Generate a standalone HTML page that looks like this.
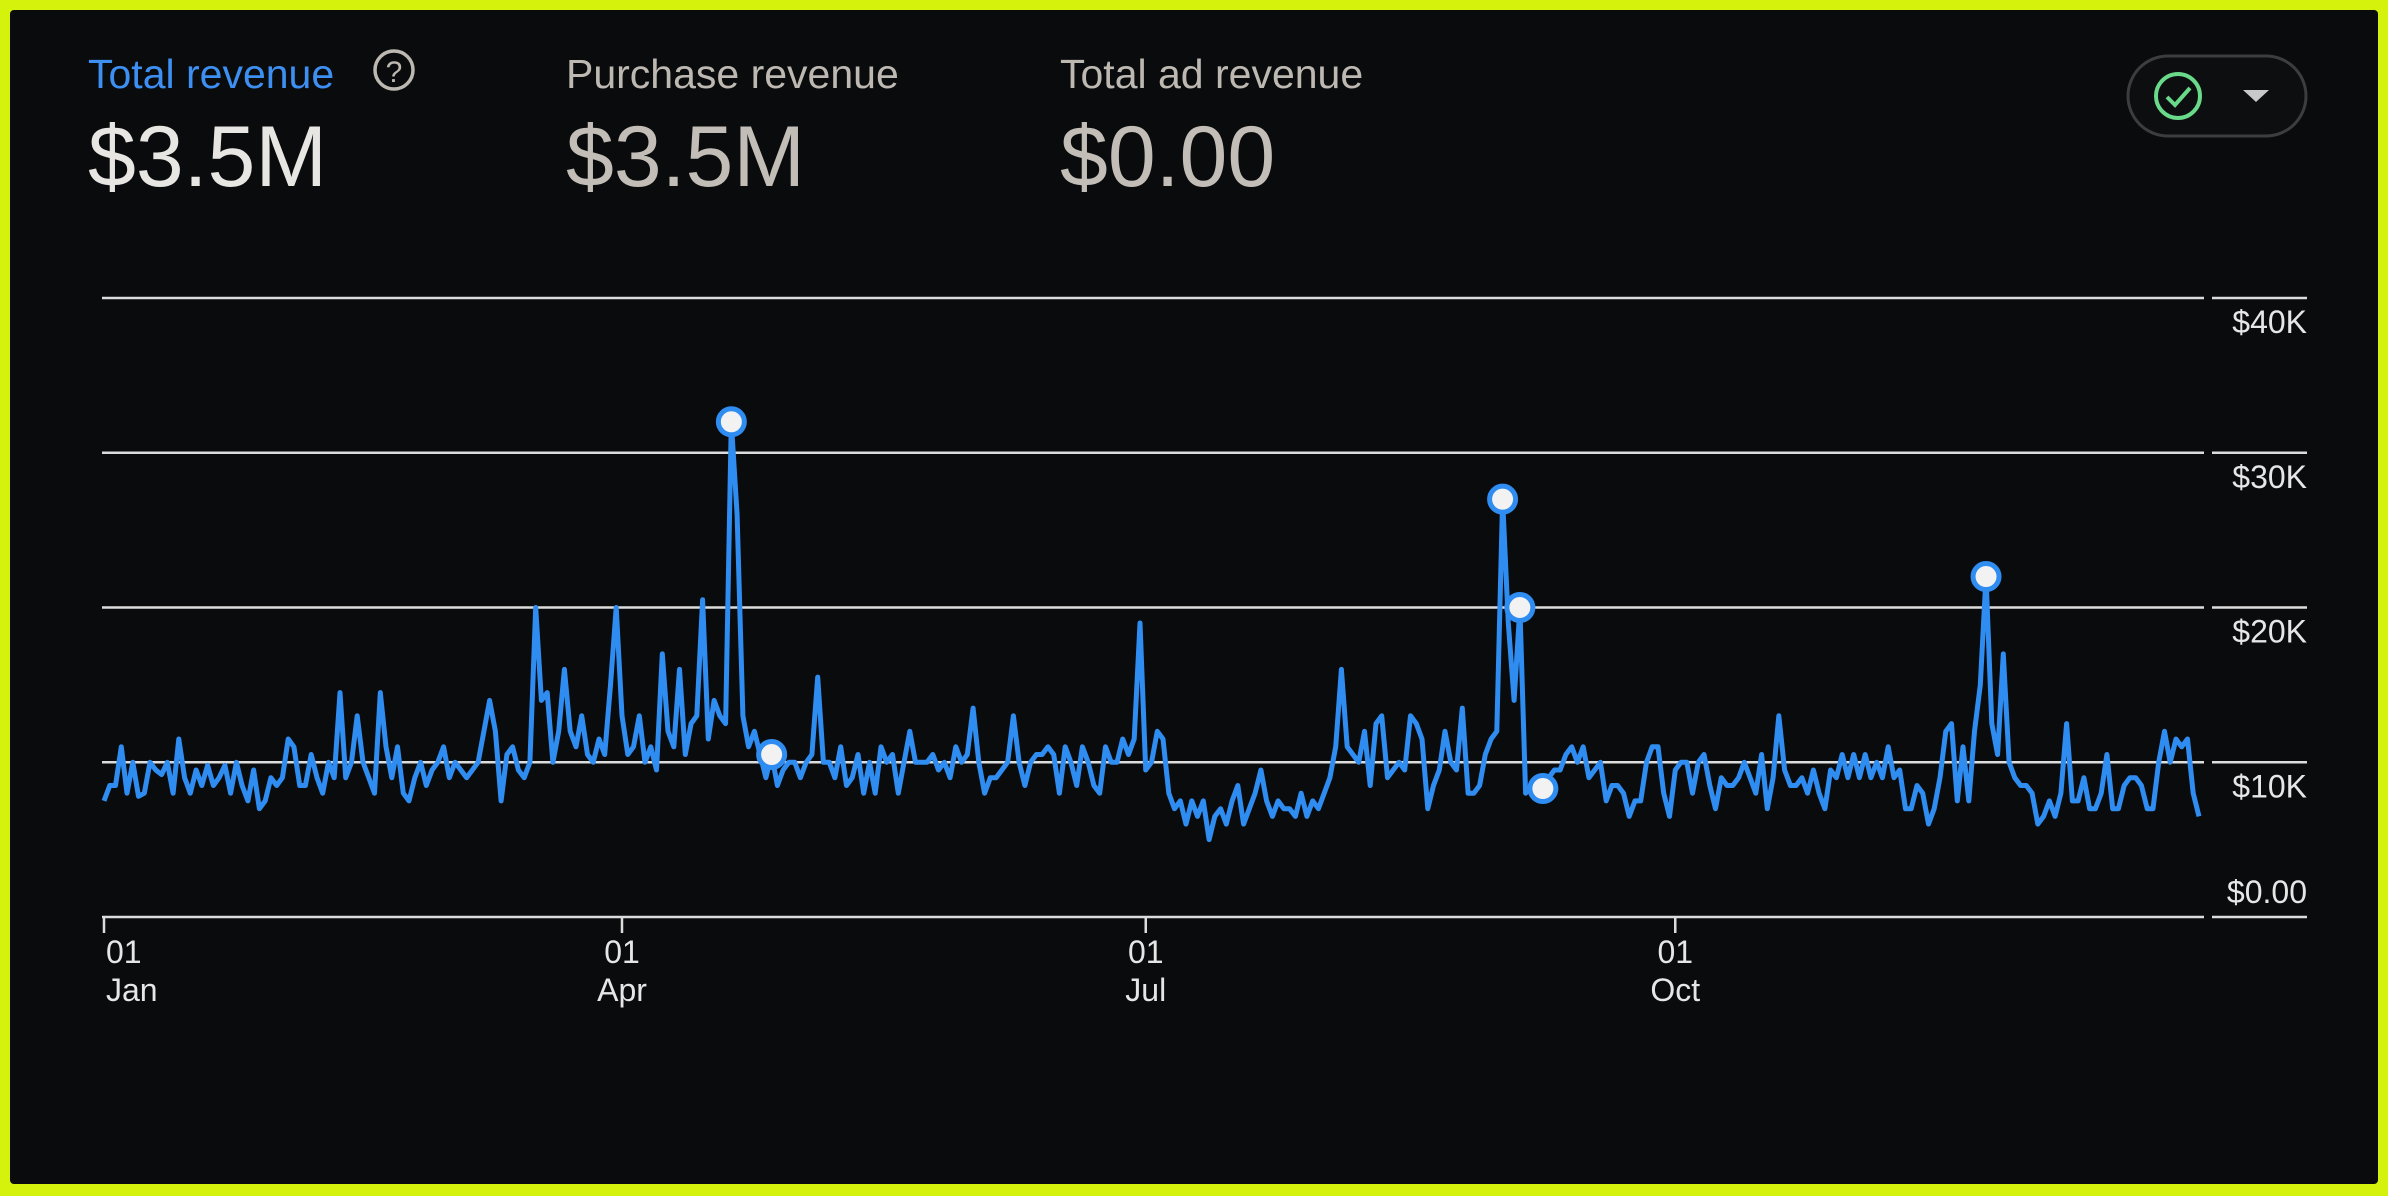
<!DOCTYPE html>
<html><head><meta charset="utf-8"><style>
html,body{margin:0;padding:0;background:#d4f20c;}
#card{position:absolute;left:10px;top:10px;width:2368px;height:1174px;background:#0a0b0c;border-radius:4px;overflow:hidden;}
svg{position:absolute;left:0;top:0;}
.lbl{position:absolute;font-family:"Liberation Sans",sans-serif;font-size:41px;white-space:nowrap;}
.val{position:absolute;font-family:"Liberation Sans",sans-serif;font-size:86px;white-space:nowrap;}
</style></head><body>
<div id="card"></div>
<div class="lbl" style="left:88px;top:51px;color:#3d8ff2;">Total revenue</div>
<svg width="2388" height="1196" style="pointer-events:none">
  <g>
    <circle cx="394" cy="70" r="19" fill="none" stroke="#bdb9b2" stroke-width="3.5"/>
    <text x="394" y="82" text-anchor="middle" font-family="Liberation Sans, sans-serif" font-size="30" fill="#bdb9b2">?</text>
  </g>
  <g>
    <rect x="2128" y="56" width="178" height="80" rx="40" fill="#0d0e0f" stroke="#3b3d40" stroke-width="3"/>
    <circle cx="2178" cy="96" r="22" fill="none" stroke="#69d98a" stroke-width="4"/>
    <polyline points="2167,97 2175,105 2190,88" fill="none" stroke="#69d98a" stroke-width="4"/>
    <polygon points="2243,90 2269,90 2256,102" fill="#c9c9c9"/>
  </g>
  <g id="grid"></g><g id="xaxis"></g><g id="series"></g>
</svg>
<div class="val" style="left:88px;top:108px;color:#e8e6e3;">$3.5M</div>
<div class="lbl" style="left:566px;top:51px;color:#bdb9b2;">Purchase revenue</div>
<div class="val" style="left:566px;top:108px;color:#c2bdb6;">$3.5M</div>
<div class="lbl" style="left:1060px;top:51px;color:#bdb9b2;">Total ad revenue</div>
<div class="val" style="left:1060px;top:108px;color:#c2bdb6;">$0.00</div>
<script>
const yTicks=[0,10,20,30,40];
const yTickLabels=['$0.00','$10K','$20K','$30K','$40K'];
const xTickDays=[0,90,181,273];
const xTickDay=['01','01','01','01'];
const xTickMonth=['Jan','Apr','Jul','Oct'];
const revJan=[7.5,8.5,8.5,11,8,10,7.8,8,10,9.5,9.2,10,8,11.5,9,8,9.5,8.5,9.8,8.5,9,9.8,8,10,8.5,7.5,9.5,7,7.5,9,8.5];
const revFeb=[9,11.5,11,8.5,8.5,10.5,9,8,10,9,14.5,9,10,13,10,9,8,14.5,11,9,11,8,7.5,9,10,8.5,9.5,10];
const revMar=[11,9,10,9.5,9,9.5,10,12,14,12,7.5,10.5,11,9.5,9,10,20,14,14.5,10,12,16,12,11,13,10.5,10,11.5,10.5,15,20];
const revApr=[13,10.5,11,13,10,11,9.5,17,12,11,16,10.5,12.5,13,20.5,11.5,14,13,12.5,32,26,13,11,12,10.5,9,10.5,8.5,9.5,10];
const revMay=[10,9,10,10.5,15.5,10,10,9,11,8.5,9,10.5,8,10,8,11,10,10.5,8,10,12,10,10,10,10.5,9.5,10,9,11,10,10.5];
const revJun=[13.5,10,8,9,9,9.5,10,13,10,8.5,10,10.5,10.5,11,10.5,8,11,10,8.5,11,10,8.5,8,11,10,10,11.5,10.5,11.5,19];
const revJul=[9.5,10,12,11.5,8,7,7.5,6,7.5,6.5,7.5,5,6.5,7,6,7.5,8.5,6,7,8,9.5,7.5,6.5,7.5,7,7,6.5,8,6.5,7.5,7];
const revAug=[8,9,11,16,11,10.5,10,12,8.5,12.5,13,9,9.5,10,9.5,13,12.5,11.5,7,8.5,9.5,12,10,9.5,13.5,8,8,8.5,10.5,11.5,12];
const revSep=[27,19,14,20,8,8.5,8.5,8.3,9,9.5,9.5,10.5,11,10,11,9,9.5,10,7.5,8.5,8.5,8,6.5,7.5,7.5,10,11,11,8,6.5];
const revOct=[9.5,10,10,8,10,10.5,8.5,7,9,8.5,8.5,9,10,9,8,10.5,7,9,13,9.5,8.5,8.5,9,8,9.5,8,7,9.5,9,10.5,9];
const revNov=[10.5,9,10.5,9,10,9,11,9,9.5,7,7,8.5,8,6,7,9,12,12.5,7.5,11,7.5,12,15,22,12.5,10.5,17,10,9,8.5];
const revDec=[8.5,8,6,6.5,7.5,6.5,8,12.5,7.5,7.5,9,7,7,8,10.5,7,7,8.5,9,9,8.5,7,7,10,12,10,11.5,11,11.5,8,6.5];
const markerDays=[109,116,243,246,250,327];

const revenue=[].concat(revJan,revFeb,revMar,revApr,revMay,revJun,revJul,revAug,revSep,revOct,revNov,revDec);
const NS='http://www.w3.org/2000/svg';
const X0=104,X1=2199,Y0=917,YMAX=40,Y40=298;
function xScale(i){return X0+i*(X1-X0)/(revenue.length-1);}
function yScale(v){return Y0-v*(Y0-Y40)/YMAX;}
function mk(tag,attrs,parent){const e=document.createElementNS(NS,tag);for(const k in attrs)e.setAttribute(k,attrs[k]);parent.appendChild(e);return e;}
const grid=document.getElementById('grid');
yTicks.forEach((t,k)=>{
  const y=yScale(t);
  const l=mk('line',{x1:102,x2:2204,y1:y,y2:y,stroke:'#dcdcdc','stroke-width':2.5},grid);
  
  
  const l2=mk('line',{x1:2212,x2:2307,y1:y,y2:y,stroke:'#dcdcdc','stroke-width':2.5},grid);
  
  
  const tx=mk('text',{x:2307,y:t===0?y-14:y+35,'text-anchor':'end','font-family':'Liberation Sans, sans-serif','font-size':32,fill:'#e6e6e6'},grid);
  tx.textContent=yTickLabels[k];
  
  
});
const xa=document.getElementById('xaxis');
xTickDays.forEach((d,k)=>{
  const x=xScale(d);
  const tk=mk('line',{x1:x,x2:x,y1:917,y2:933,stroke:'#dcdcdc','stroke-width':2.5},xa);
  
  
  const anchor=k===0?'start':'middle';
  const t1=mk('text',{x:k===0?x+2:x,y:963,'text-anchor':anchor,'font-family':'Liberation Sans, sans-serif','font-size':32,fill:'#e6e6e6'},xa);
  t1.textContent=xTickDay[k];
  
  
  const t2=mk('text',{x:k===0?x+2:x,y:1001,'text-anchor':anchor,'font-family':'Liberation Sans, sans-serif','font-size':32,fill:'#e6e6e6'},xa);
  t2.textContent=xTickMonth[k];
  
  
});
const sg=document.getElementById('series');
const pts=revenue.map((v,i)=>xScale(i).toFixed(1)+','+yScale(v).toFixed(1)).join(' ');
const pl=mk('polyline',{points:pts,fill:'none',stroke:'#2f8cf0','stroke-width':5,'stroke-linejoin':'round'},sg);


markerDays.forEach(d=>{
  const c=mk('circle',{cx:xScale(d),cy:yScale(revenue[d]),r:13,fill:'#f2f2f2',stroke:'#2f8cf0','stroke-width':5},sg);
  
  
});
</script>
</body></html>
